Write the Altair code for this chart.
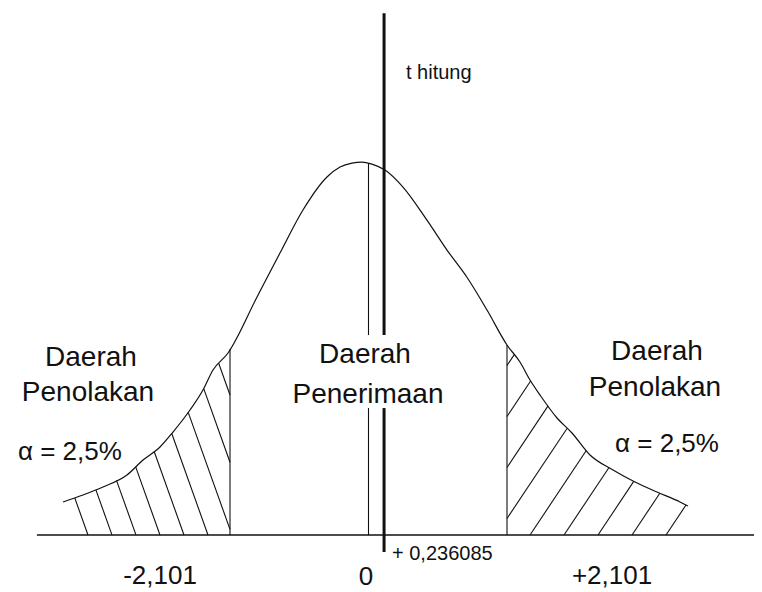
import altair as alt
import numpy as np
import pandas as pd

# ---- data ----
# hand-drawn density curve (t value, height)
curve_t = [-4.634, -4.331, -4.028, -3.664, -3.421, -3.163, -2.966, -2.708, -2.511,
           -2.359, -2.131, -1.691, -1.343, -0.994, -0.630, -0.432, -0.250, -0.099,
           0.053, 0.250, 0.523, 0.887, 1.191, 1.491, 1.798, 2.101, 2.298, 2.450,
           2.602, 2.860, 3.087, 3.360, 3.709, 4.043, 4.377, 4.726, 4.847]
curve_h = [0.0355, 0.0430, 0.0516, 0.0645, 0.0806, 0.0946, 0.1107, 0.1344, 0.1559,
           0.1774, 0.1957, 0.2559, 0.3032, 0.3494, 0.3849, 0.3956, 0.3999, 0.4010,
           0.3988, 0.3924, 0.3741, 0.3386, 0.3064, 0.2774, 0.2419, 0.2043, 0.1860,
           0.1666, 0.1505, 0.1258, 0.1097, 0.0860, 0.0699, 0.0570, 0.0462, 0.0355,
           0.0312]

t_critical = [-2.101, 2.101]
t_center = 0.0
t_hitung = 0.236085

# text annotations
labels = ["Daerah", "Penolakan", "\u03b1 = 2,5%",
          "Daerah", "Penerimaan",
          "Daerah", "Penolakan", "\u03b1 = 2,5%",
          "-2,101", "0", "+2,101"]
label_t = [-4.21, -4.255, -4.53, -0.053, -0.008, 4.377, 4.346, 4.528, -3.163, -0.038, 3.694]
label_h = [0.1903, 0.1527, 0.0892, 0.1935, 0.1505, 0.1967, 0.1580, 0.0978, -0.0441, -0.0452, -0.0441]
label_size = [28, 28, 26, 28, 28, 28, 28, 26, 26, 26, 26]

side_labels = ["t hitung", "+ 0,236085"]
side_t = [0.569, 0.356]
side_h = [0.4967, -0.0204]
side_size = [20, 20]

# ---- layout / style constants ----
W, H = 746, 584
KX, KY = 65.92, 930.0            # px per t unit, px per height unit
X_MIN = -(368.5 - 8) / KX
X_MAX = X_MIN + W / KX
Y_MAX = (535 - 8) / KY
Y_MIN = Y_MAX - H / KY
BASE_START = -5.03
GAP_LOW, GAP_HIGH = 0.1365, 0.215   # gap in vertical lines behind middle text
T_LINE_TOP, T_LINE_BOTTOM = 0.561, -0.0183
INK = "#111111"
FONT = "Liberation Sans"

xs = alt.Scale(domain=[X_MIN, X_MAX], nice=False, zero=False)
ys = alt.Scale(domain=[Y_MIN, Y_MAX], nice=False, zero=False)


def f(t):
    return float(np.interp(t, curve_t, curve_h))


def hatch(t_lo, t_hi, slope_px, anchor_t, spacing_t, direction):
    ts = np.linspace(t_lo, t_hi, 4000)
    fs = np.interp(ts, curve_t, curve_h)
    segs = []
    for k in range(-40, 41):
        c = anchor_t + k * spacing_t
        hs = direction * slope_px * (ts - c) * KX / KY
        inside = (hs >= 0) & (hs <= fs)
        idx = np.where(inside)[0]
        if len(idx) < 2:
            continue
        i0, i1 = idx[0], idx[-1]
        length = np.hypot((ts[i1] - ts[i0]) * KX, (hs[i1] - hs[i0]) * KY)
        if length < 6:
            continue
        segs.append(dict(x=ts[i0], y=hs[i0], x2=ts[i1], y2=hs[i1]))
    return segs


segs = []
segs += hatch(curve_t[0], t_critical[0], 2.8, (208 - 368.5) / KX, 24 / KX, -1)
segs += hatch(t_critical[1], curve_t[-1], 1.5, (530 - 368.5) / KX, 34 / KX, 1)
# critical lines
for tc in t_critical:
    segs.append(dict(x=tc, y=0.0, x2=tc, y2=f(tc)))
# centre line (broken behind text)
segs.append(dict(x=t_center, y=0.0, x2=t_center, y2=GAP_LOW))
segs.append(dict(x=t_center, y=GAP_HIGH, x2=t_center, y2=f(t_center)))
seg_df = pd.DataFrame(segs)

thick_df = pd.DataFrame([
    dict(x=t_hitung, y=T_LINE_BOTTOM, x2=t_hitung, y2=GAP_LOW),
    dict(x=t_hitung, y=GAP_HIGH, x2=t_hitung, y2=T_LINE_TOP),
])

curve_df = pd.DataFrame({"t": curve_t, "h": curve_h})
lab_df = pd.DataFrame({"label": labels, "t": label_t, "h": label_h, "fs": label_size})
side_df = pd.DataFrame({"label": side_labels, "t": side_t, "h": side_h, "fs": side_size})

curve = alt.Chart(curve_df).mark_line(color=INK, strokeWidth=1.2, interpolate="monotone").encode(
    x=alt.X("t:Q", scale=xs, axis=None),
    y=alt.Y("h:Q", scale=ys, axis=None),
    order="t:Q",
)

thin = alt.Chart(seg_df).mark_rule(color=INK, strokeWidth=1.1).encode(
    x=alt.X("x:Q", scale=xs, axis=None),
    y=alt.Y("y:Q", scale=ys, axis=None),
    x2="x2:Q",
    y2="y2:Q",
)
base = alt.Chart(pd.DataFrame([dict(x=BASE_START, x2=X_MAX, y=0.0)])).mark_rule(
    color=INK, strokeWidth=1.6).encode(
    x=alt.X("x:Q", scale=xs, axis=None),
    x2="x2:Q",
    y=alt.Y("y:Q", scale=ys, axis=None),
)

thick = alt.Chart(thick_df).mark_rule(color=INK, strokeWidth=3).encode(
    x=alt.X("x:Q", scale=xs, axis=None),
    y=alt.Y("y:Q", scale=ys, axis=None),
    x2="x2:Q",
    y2="y2:Q",
)

texts = alt.Chart(lab_df).mark_text(font=FONT, color=INK, align="center", baseline="middle").encode(
    x=alt.X("t:Q", scale=xs, axis=None),
    y=alt.Y("h:Q", scale=ys, axis=None),
    text="label:N",
    size=alt.Size("fs:Q", scale=None, legend=None),
)

side_texts = alt.Chart(side_df).mark_text(font=FONT, color=INK, align="left", baseline="middle").encode(
    x=alt.X("t:Q", scale=xs, axis=None),
    y=alt.Y("h:Q", scale=ys, axis=None),
    text="label:N",
    size=alt.Size("fs:Q", scale=None, legend=None),
)

chart = alt.layer(thin, base, thick, curve, texts, side_texts).properties(
    width=W, height=H, autosize="none", padding=0, background="white"
).configure_view(stroke=None)

chart.save("out.html", embed_options={"renderer": "svg", "actions": False})
